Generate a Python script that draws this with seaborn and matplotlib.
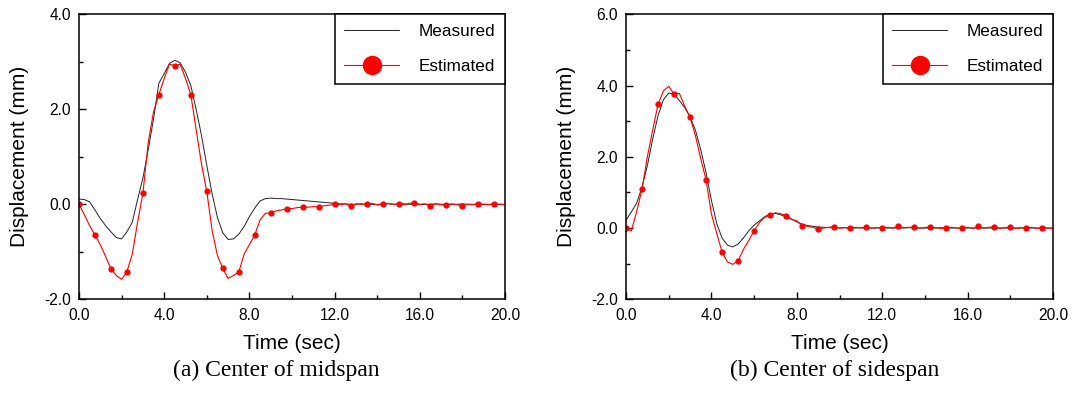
import numpy as np
import pandas as pd
import seaborn as sns
import matplotlib.pyplot as plt
from matplotlib.lines import Line2D
from matplotlib.ticker import MultipleLocator, FormatStrFormatter

# time grid (sec), values every 0.25 s
time = np.arange(0, 20.001, 0.25)

# (a) Center of midspan
mid_measured = [
    0.11, 0.10, 0.05, -0.12, -0.30, -0.45, -0.58, -0.70, -0.73, -0.58,
    -0.38, 0.10, 0.55, 1.15, 1.80, 2.55, 2.75, 2.97, 3.03, 2.98,
    2.78, 2.50, 2.00, 1.45, 0.82, 0.22, -0.28, -0.60, -0.74, -0.73,
    -0.63, -0.47, -0.26, -0.08, 0.07, 0.12, 0.13, 0.12, 0.12, 0.11,
    0.10, 0.09, 0.08, 0.07, 0.06, 0.05, 0.04, 0.03, 0.02, 0.01,
    0.01, 0.00, 0.00, 0.01, 0.00, 0.00, -0.01, 0.00, 0.01, 0.00,
    0.00, 0.01, 0.00, 0.00, -0.01, 0.00, 0.00, 0.01, 0.00, 0.00,
    0.00, 0.00, 0.01, 0.00, 0.00, 0.00, 0.00, 0.00, 0.00, 0.00,
    0.00,
]
mid_estimated = [
    0.00, -0.22, -0.45, -0.65, -0.85, -1.10, -1.36, -1.50, -1.58, -1.42,
    -1.05, -0.38, 0.23, 1.30, 1.95, 2.31, 2.65, 2.95, 2.92, 2.95,
    2.65, 2.31, 1.57, 0.85, 0.27, -0.55, -1.08, -1.35, -1.56, -1.50,
    -1.43, -1.05, -0.85, -0.65, -0.33, -0.19, -0.18, -0.14, -0.12, -0.09,
    -0.09, -0.07, -0.06, -0.06, -0.05, -0.05, -0.03, -0.02, 0.00, -0.01,
    0.01, -0.04, 0.01, 0.00, 0.00, 0.02, -0.01, 0.01, 0.02, 0.00,
    0.01, -0.01, 0.02, 0.03, 0.00, 0.01, -0.04, 0.01, -0.01, -0.02,
    0.01, -0.01, -0.04, 0.00, -0.01, 0.01, 0.00, -0.01, 0.01, 0.00,
    -0.01,
]

# (b) Center of sidespan
side_measured = [
    0.22, 0.45, 0.70, 1.15, 1.75, 2.50, 3.15, 3.60, 3.79, 3.76,
    3.58, 3.38, 3.12, 2.75, 2.20, 1.55, 0.78, 0.13, -0.28, -0.48,
    -0.53, -0.45, -0.28, -0.08, 0.08, 0.20, 0.32, 0.39, 0.41, 0.37,
    0.31, 0.25, 0.17, 0.11, 0.07, 0.05, 0.03, 0.02, 0.01, 0.01,
    0.00, 0.01, 0.00, 0.00, 0.01, 0.00, 0.00, 0.00, 0.01, 0.00,
    0.00, 0.00, 0.00, 0.01, 0.00, 0.00, 0.00, 0.00, 0.00, 0.01,
    0.00, 0.00, 0.00, 0.00, 0.00, 0.00, 0.00, 0.00, 0.00, 0.00,
    0.00, 0.00, 0.00, 0.00, 0.00, 0.00, 0.00, 0.00, 0.00, 0.00,
    0.00,
]
side_estimated = [
    0.00, -0.08, 0.46, 1.09, 2.00, 2.75, 3.47, 3.85, 3.98, 3.76,
    3.78, 3.42, 3.11, 2.60, 1.95, 1.35, 0.40, -0.15, -0.68, -0.95,
    -1.02, -0.92, -0.60, -0.35, -0.07, 0.15, 0.30, 0.36, 0.43, 0.40,
    0.35, 0.25, 0.20, 0.07, 0.05, 0.02, -0.03, 0.00, 0.02, 0.04,
    0.00, 0.01, 0.00, 0.02, 0.00, 0.02, 0.00, 0.01, 0.01, 0.02,
    0.00, 0.06, 0.01, 0.02, 0.02, 0.00, 0.01, 0.03, 0.01, -0.01,
    0.01, 0.02, 0.00, 0.01, 0.02, -0.01, 0.05, 0.00, 0.02, 0.03,
    -0.01, 0.01, 0.02, -0.01, 0.01, 0.00, 0.02, -0.01, 0.01, 0.00,
    -0.01,
]

sns.set_theme(style='white')
plt.rcParams['font.family'] = ['Liberation Sans', 'DejaVu Sans']
plt.rcParams['text.color'] = 'black'
plt.rcParams['axes.labelcolor'] = 'black'

fig = plt.figure(figsize=(10.72, 3.94), dpi=100)
ax1 = fig.add_axes([79 / 1072, 0.2404, 426 / 1072, 0.7233])
ax2 = fig.add_axes([626 / 1072, 0.2404, 427 / 1072, 0.7233])


def panel(ax, meas, est, ymax, caption, cx):
    df = pd.DataFrame({'t': time, 'meas': meas, 'est': est})
    sns.lineplot(data=df, x='t', y='meas', ax=ax, color='#222222', lw=0.7,
                 estimator=None)
    sns.lineplot(data=df, x='t', y='est', ax=ax, color='#ff0000', lw=0.8,
                 marker='o', markersize=4.5, markeredgewidth=0, markevery=3,
                 estimator=None)
    ax.set_xlim(0, 20)
    ax.set_ylim(-2, ymax)
    ax.xaxis.set_major_locator(MultipleLocator(4))
    ax.xaxis.set_minor_locator(MultipleLocator(2))
    ax.yaxis.set_major_locator(MultipleLocator(2))
    ax.yaxis.set_minor_locator(MultipleLocator(1))
    ax.xaxis.set_major_formatter(FormatStrFormatter('%.1f'))
    ax.yaxis.set_major_formatter(FormatStrFormatter('%.1f'))
    ax.tick_params(which='both', direction='in', top=False, right=False,
                   bottom=True, left=True, width=1.0, colors='black',
                   labelsize=11.2, pad=6)
    ax.tick_params(which='major', length=4.8)
    ax.tick_params(which='minor', length=2.7)
    for s in ax.spines.values():
        s.set_color('black')
        s.set_linewidth(1.1)
    ax.set_xlabel('Time (sec)', fontsize=15, labelpad=8)
    ax.set_ylabel('Displacement (mm)', fontsize=15, labelpad=11)
    handles = [
        Line2D([], [], color='#222222', lw=0.7),
        Line2D([], [], color='#ff0000', lw=0.8, marker='o', markersize=14,
               markeredgewidth=0),
    ]
    leg = ax.legend(handles, ['Measured', 'Estimated'], loc='upper right',
                    bbox_to_anchor=(1, 1), borderaxespad=0, fontsize=12.3,
                    fancybox=False, framealpha=1, edgecolor='black',
                    handlelength=3.2, handletextpad=1.17, borderpad=0.55,
                    labelspacing=1.2)
    leg.get_frame().set_linewidth(1.1)
    fig.text(cx, 0.061, caption, ha='center', va='center', fontsize=17,
             family='Liberation Serif')


panel(ax1, mid_measured, mid_estimated, 4, '(a) Center of midspan', 276 / 1072)
panel(ax2, side_measured, side_estimated, 6, '(b) Center of sidespan', 835 / 1072)

fig.savefig('out.png', dpi=100)
